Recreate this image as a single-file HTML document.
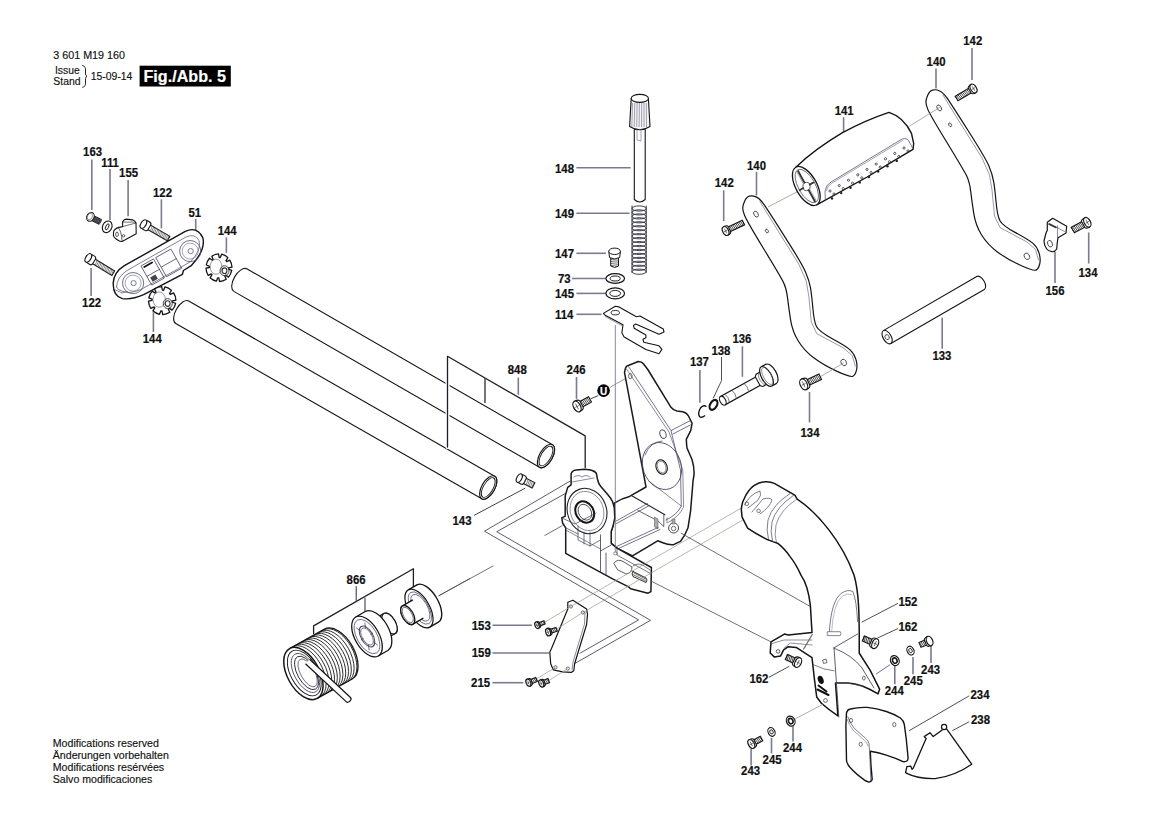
<!DOCTYPE html><html><head><meta charset="utf-8"><style>html,body{margin:0;padding:0;background:#fff}svg{display:block}</style></head><body><svg width="1169" height="826" viewBox="0 0 1169 826">
<style>text{font-family:"Liberation Sans",sans-serif;fill:#111;stroke:#111;stroke-width:0.15}.b{font-weight:bold}.lb{stroke:#111;stroke-width:0.2}</style>
<rect width="1169" height="826" fill="#fff"/>
<text x="53.3" y="58.8" font-size="10.8" textLength="71.7" lengthAdjust="spacingAndGlyphs">3 601 M19 160</text>
<text x="55" y="73.9" font-size="10.6" textLength="24.7" lengthAdjust="spacingAndGlyphs">Issue</text>
<text x="53.3" y="85.3" font-size="10.6" textLength="27.2" lengthAdjust="spacingAndGlyphs">Stand</text>
<path d="M82.6,65.5 Q86,66 85.5,71 L85.5,74 Q85.8,76 87,76.2 Q85.8,76.6 85.5,78.5 L85.5,82 Q86,87 82.6,87.2" stroke="#111" stroke-width="0.9" fill="none" stroke-linejoin="round" stroke-linecap="round"/>
<text x="90.8" y="79.7" font-size="10.6" textLength="41.6" lengthAdjust="spacingAndGlyphs">15-09-14</text>
<rect x="139.6" y="65.7" width="91.2" height="20.8" fill="#000"/>
<text x="143.5" y="81.6" font-size="16.8" class="b" style="fill:#fff;stroke:#fff;stroke-width:0.2" textLength="82.5" lengthAdjust="spacingAndGlyphs">Fig./Abb. 5</text>
<text x="52.8" y="747.1" font-size="10.6">Modifications reserved</text>
<text x="52.8" y="758.9" font-size="10.6">Änderungen vorbehalten</text>
<text x="52.8" y="770.7" font-size="10.6">Modifications resérvées</text>
<text x="52.8" y="782.5" font-size="10.6">Salvo modificaciones</text>
<text transform="translate(83.1,156.3) scale(0.955,1)" class="b lb" font-size="11.9">163</text>
<line x1="91.8" y1="159.4" x2="91.8" y2="210.0" stroke="#7a7a92" stroke-width="1.6"/>
<text transform="translate(101.2,166.9) scale(0.955,1)" class="b lb" font-size="11.9">111</text>
<line x1="110.0" y1="169.0" x2="110.0" y2="219.9" stroke="#7a7a92" stroke-width="1.6"/>
<text transform="translate(119.1,177.3) scale(0.955,1)" class="b lb" font-size="11.9">155</text>
<line x1="128.1" y1="180.0" x2="128.1" y2="216.3" stroke="#7a7a92" stroke-width="1.6"/>
<text transform="translate(153.0,197.1) scale(0.955,1)" class="b lb" font-size="11.9">122</text>
<line x1="161.4" y1="199.3" x2="161.4" y2="228.4" stroke="#7a7a92" stroke-width="1.6"/>
<text transform="translate(188.4,216.8) scale(0.955,1)" class="b lb" font-size="11.9">51</text>
<line x1="195.7" y1="218.8" x2="195.7" y2="231.5" stroke="#7a7a92" stroke-width="1.6"/>
<text transform="translate(217.7,235.0) scale(0.955,1)" class="b lb" font-size="11.9">144</text>
<line x1="226.4" y1="237.5" x2="226.4" y2="252.7" stroke="#7a7a92" stroke-width="1.6"/>
<text transform="translate(82.1,307.0) scale(0.955,1)" class="b lb" font-size="11.9">122</text>
<line x1="91.1" y1="268.0" x2="91.1" y2="296.0" stroke="#7a7a92" stroke-width="1.6"/>
<text transform="translate(142.8,343.3) scale(0.955,1)" class="b lb" font-size="11.9">144</text>
<line x1="153.4" y1="312.2" x2="153.4" y2="331.9" stroke="#7a7a92" stroke-width="1.6"/>
<g transform="translate(90.4,216.9) rotate(27)"><path d="M0,-2.6 L11,-2.6 Q12.2,0 11,2.6 L0,2.6 Z" fill="#2a2a3a" stroke="#141414" stroke-width="0.9"/>
<line x1="4.0" y1="-2.4" x2="4.6" y2="2.4" stroke="#888" stroke-width="0.5"/>
<line x1="5.6" y1="-2.4" x2="6.2" y2="2.4" stroke="#888" stroke-width="0.5"/>
<line x1="7.2" y1="-2.4" x2="7.8" y2="2.4" stroke="#888" stroke-width="0.5"/>
<line x1="8.8" y1="-2.4" x2="9.4" y2="2.4" stroke="#888" stroke-width="0.5"/>
<line x1="10.4" y1="-2.4" x2="11.0" y2="2.4" stroke="#888" stroke-width="0.5"/>
<ellipse cx="0" cy="0" rx="3.6" ry="4.6" fill="#fff" stroke="#141414" stroke-width="1.0"/><ellipse cx="-0.6" cy="0" rx="2.4" ry="3.4" fill="none" stroke="#555" stroke-width="0.6"/></g>
<g transform="translate(107.2,226.8) rotate(25)"><ellipse rx="4.6" ry="6" fill="#fff" stroke="#141414" stroke-width="1.1"/><ellipse rx="1.4" ry="3.2" fill="none" stroke="#141414" stroke-width="0.8800000000000001"/></g>
<path d="M122.6,221.9 Q123.5,219.6 126.2,219.1 L132.9,219.9 Q135.5,221 136,223 L136.2,233.7 L122.1,241.4 Q119.8,241.6 118.5,240.4 Q114,238 113.4,235.3 Q113.3,232 113.9,230.7 Q116,228 118,227.6 L122.6,226.6 Z" stroke="#141414" stroke-width="1.1" fill="#fff" stroke-linejoin="round" stroke-linecap="round"/>
<path d="M122.6,226.6 L136,223 M122.6,221.9 Q126,222.5 132,222 Q135,222 136,223" stroke="#333" stroke-width="0.7" fill="none" stroke-linejoin="round" stroke-linecap="round"/>
<path d="M118,227.6 Q121.5,230 122.1,241.4" stroke="#333" stroke-width="0.8" fill="none" stroke-linejoin="round" stroke-linecap="round"/>
<ellipse cx="117" cy="234.3" rx="1.4" ry="2.2" fill="none" stroke="#333" stroke-width="0.8"/><circle cx="123.6" cy="235.8" r="1.2" fill="none" stroke="#333" stroke-width="0.8"/>
<g transform="translate(146.0,225.5) rotate(30.1)"><path d="M0,-2.6 L26.1,-2.6 L26.1,2.6 L0,2.6" fill="#fff" stroke="#141414" stroke-width="1.1"/><line x1="5.8" y1="-2.6" x2="6.6" y2="2.6" stroke="#555" stroke-width="0.6"/><line x1="7.4" y1="-2.6" x2="8.2" y2="2.6" stroke="#555" stroke-width="0.6"/><line x1="9.0" y1="-2.6" x2="9.8" y2="2.6" stroke="#555" stroke-width="0.6"/><line x1="10.6" y1="-2.6" x2="11.4" y2="2.6" stroke="#555" stroke-width="0.6"/><line x1="12.2" y1="-2.6" x2="13.0" y2="2.6" stroke="#555" stroke-width="0.6"/><line x1="13.8" y1="-2.6" x2="14.6" y2="2.6" stroke="#555" stroke-width="0.6"/><line x1="15.4" y1="-2.6" x2="16.2" y2="2.6" stroke="#555" stroke-width="0.6"/><line x1="17.0" y1="-2.6" x2="17.8" y2="2.6" stroke="#555" stroke-width="0.6"/><line x1="18.6" y1="-2.6" x2="19.4" y2="2.6" stroke="#555" stroke-width="0.6"/><line x1="20.2" y1="-2.6" x2="21.0" y2="2.6" stroke="#555" stroke-width="0.6"/><line x1="21.8" y1="-2.6" x2="22.6" y2="2.6" stroke="#555" stroke-width="0.6"/><line x1="23.4" y1="-2.6" x2="24.2" y2="2.6" stroke="#555" stroke-width="0.6"/><line x1="25.0" y1="-2.6" x2="25.8" y2="2.6" stroke="#555" stroke-width="0.6"/><rect x="-2.9" y="-4.8" width="6.7" height="9.6" rx="2.4" fill="#fff" stroke="#141414" stroke-width="1.1"/><ellipse cx="-2.9" cy="0" rx="2.6" ry="4.8" fill="#fff" stroke="#141414" stroke-width="1.1"/></g>
<g transform="translate(90.8,259.5) rotate(31.5)"><path d="M0,-2.6 L26.3,-2.6 L26.3,2.6 L0,2.6" fill="#fff" stroke="#141414" stroke-width="1.1"/><line x1="5.8" y1="-2.6" x2="6.6" y2="2.6" stroke="#555" stroke-width="0.6"/><line x1="7.4" y1="-2.6" x2="8.2" y2="2.6" stroke="#555" stroke-width="0.6"/><line x1="9.0" y1="-2.6" x2="9.8" y2="2.6" stroke="#555" stroke-width="0.6"/><line x1="10.6" y1="-2.6" x2="11.4" y2="2.6" stroke="#555" stroke-width="0.6"/><line x1="12.2" y1="-2.6" x2="13.0" y2="2.6" stroke="#555" stroke-width="0.6"/><line x1="13.8" y1="-2.6" x2="14.6" y2="2.6" stroke="#555" stroke-width="0.6"/><line x1="15.4" y1="-2.6" x2="16.2" y2="2.6" stroke="#555" stroke-width="0.6"/><line x1="17.0" y1="-2.6" x2="17.8" y2="2.6" stroke="#555" stroke-width="0.6"/><line x1="18.6" y1="-2.6" x2="19.4" y2="2.6" stroke="#555" stroke-width="0.6"/><line x1="20.2" y1="-2.6" x2="21.0" y2="2.6" stroke="#555" stroke-width="0.6"/><line x1="21.8" y1="-2.6" x2="22.6" y2="2.6" stroke="#555" stroke-width="0.6"/><line x1="23.4" y1="-2.6" x2="24.2" y2="2.6" stroke="#555" stroke-width="0.6"/><line x1="25.0" y1="-2.6" x2="25.8" y2="2.6" stroke="#555" stroke-width="0.6"/><rect x="-2.9" y="-4.8" width="6.7" height="9.6" rx="2.4" fill="#fff" stroke="#141414" stroke-width="1.1"/><ellipse cx="-2.9" cy="0" rx="2.6" ry="4.8" fill="#fff" stroke="#141414" stroke-width="1.1"/></g>
<path d="M113.2,283.1 Q114,272 124.4,265.7 L185.3,231.3 Q197,226 202.8,237.6 Q206,250 191.2,265.7 L183.4,270.5 L182.4,274.4 L176.6,277.3 L143.7,294.7 Q132,300 122.4,298.6 Q113,296 113.2,283.1 Z" stroke="#141414" stroke-width="1.4" fill="#fff" stroke-linejoin="round" stroke-linecap="round"/>
<path d="M116.5,287 Q117,277 127,270.5 L186,237 Q195,233 199,240.5 Q202,250 190,262 L176,270 L141,289.5 Q130,294 123,291.5 Q117,290 116.5,287" stroke="#4a4a6a" stroke-width="0.7" fill="none" stroke-linejoin="round" stroke-linecap="round"/>
<path d="M113.5,289 L122,293 L127,291.5" stroke="#4a4a6a" stroke-width="0.7" fill="none" stroke-linejoin="round" stroke-linecap="round"/>
<circle cx="133.1" cy="283.1" r="10.6" fill="none" stroke="#4a4a6a" stroke-width="0.8"/><circle cx="133.1" cy="283.1" r="8" fill="none" stroke="#6a6a88" stroke-width="0.6"/><circle cx="133.6" cy="283.1" r="2.6" fill="none" stroke="#4a4a6a" stroke-width="0.7"/>
<circle cx="190.2" cy="251.1" r="10.6" fill="none" stroke="#4a4a6a" stroke-width="0.8"/><circle cx="190.2" cy="251.1" r="8" fill="none" stroke="#6a6a88" stroke-width="0.6"/><circle cx="190.7" cy="251.1" r="2.6" fill="none" stroke="#4a4a6a" stroke-width="0.7"/>
<g transform="translate(161.5,267) rotate(-29.5)">
<path d="M-17,-11 L-3,-11 L-3,11 L-17,11 Z M0,-11 L17,-11 L17,11 L0,11 Z M0,0 L17,0 M-17,1 L-3,1" stroke="#3a3a5a" stroke-width="0.7" fill="none" stroke-linejoin="round" stroke-linecap="round"/>
<path d="M-15,-8.5 L-6,-8.5" stroke="#141414" stroke-width="1.8" fill="none" stroke-linejoin="round" stroke-linecap="round"/>
<rect x="-15" y="3.5" width="6" height="5" fill="#444"/>
</g>
<path d="M231.7,270.4 A13.0,13.8 0 0 1 228.5,277.1 L225.6,275.1 Q225.2,275.5 224.8,275.9 L226.2,279.2 A13.0,13.8 0 0 1 219.5,281.5 L218.8,277.9 Q218.2,277.9 217.7,277.8 L216.4,281.2 A13.0,13.8 0 0 1 210.1,277.8 L212.0,274.7 Q211.7,274.3 211.3,273.8 L208.2,275.3 A13.0,13.8 0 0 1 206.0,268.2 L209.4,267.5 Q209.4,266.9 209.5,266.3 L206.3,265.0 A13.0,13.8 0 0 1 209.5,258.3 L212.4,260.3 Q212.8,259.9 213.2,259.5 L211.8,256.2 A13.0,13.8 0 0 1 218.5,253.9 L219.2,257.5 Q219.8,257.5 220.3,257.6 L221.6,254.2 A13.0,13.8 0 0 1 227.9,257.6 L226.0,260.7 Q226.3,261.1 226.7,261.6 L229.8,260.1 A13.0,13.8 0 0 1 232.0,267.2 L228.6,267.9 Q228.6,268.5 228.5,269.1 L231.7,270.4 Z" stroke="#141414" stroke-width="1.3" fill="#fff" stroke-linejoin="round" stroke-linecap="round"/>
<ellipse cx="216" cy="266.7" rx="5.9" ry="7.6" fill="none" stroke="#6a6a88" stroke-width="0.7"/>
<ellipse cx="224.5" cy="270.7" rx="4.5" ry="5" fill="none" stroke="#333" stroke-width="0.9"/>
<ellipse cx="224.5" cy="270.7" rx="2.4" ry="2.8" fill="none" stroke="#333" stroke-width="1.1"/>
<path d="M175.6,303.4 A13.7,14.0 0 0 1 172.2,310.1 L169.2,308.1 Q168.8,308.5 168.3,308.9 L169.8,312.3 A13.7,14.0 0 0 1 162.7,314.6 L162.0,311.0 Q161.4,310.9 160.8,310.9 L159.5,314.3 A13.7,14.0 0 0 1 152.9,310.8 L154.9,307.7 Q154.5,307.3 154.1,306.8 L150.8,308.3 A13.7,14.0 0 0 1 148.5,301.1 L152.1,300.3 Q152.1,299.7 152.2,299.2 L148.8,297.8 A13.7,14.0 0 0 1 152.2,291.1 L155.2,293.1 Q155.6,292.7 156.1,292.3 L154.6,288.9 A13.7,14.0 0 0 1 161.7,286.6 L162.4,290.2 Q163.0,290.3 163.6,290.3 L164.9,286.9 A13.7,14.0 0 0 1 171.5,290.4 L169.5,293.5 Q169.9,293.9 170.3,294.4 L173.6,292.9 A13.7,14.0 0 0 1 175.9,300.1 L172.3,300.9 Q172.3,301.5 172.2,302.0 L175.6,303.4 Z" stroke="#141414" stroke-width="1.3" fill="#fff" stroke-linejoin="round" stroke-linecap="round"/>
<ellipse cx="159.2" cy="299.6" rx="6.2" ry="7.7" fill="none" stroke="#6a6a88" stroke-width="0.7"/>
<ellipse cx="167.7" cy="303.6" rx="4.5" ry="5" fill="none" stroke="#333" stroke-width="0.9"/>
<ellipse cx="167.7" cy="303.6" rx="2.4" ry="2.8" fill="none" stroke="#333" stroke-width="1.1"/>
<g transform="translate(240.3,280.1) rotate(29.92)">
<path d="M0,-13 L352.7,-13 A6.5,13 0 0 1 352.7,13 L0,13 A6.5,13 0 0 1 0,-13 Z" fill="#fff" stroke="#141414" stroke-width="1.1"/>
<ellipse cx="352.7" cy="0" rx="6.5" ry="13" fill="#fff" stroke="#141414" stroke-width="1.2"/>
<ellipse cx="352.7" cy="0" rx="4.9" ry="11.0" fill="none" stroke="#141414" stroke-width="0.9"/>
</g>
<g transform="translate(182.2,312.2) rotate(29.81)">
<path d="M0,-13 L352.7,-13 A6.5,13 0 0 1 352.7,13 L0,13 A6.5,13 0 0 1 0,-13 Z" fill="#fff" stroke="#141414" stroke-width="1.1"/>
<ellipse cx="352.7" cy="0" rx="6.5" ry="13" fill="#fff" stroke="#141414" stroke-width="1.2"/>
<ellipse cx="352.7" cy="0" rx="4.9" ry="11.0" fill="none" stroke="#141414" stroke-width="0.9"/>
</g>
<text transform="translate(507.8,374.2) scale(0.955,1)" class="b lb" font-size="11.9">848</text>
<line x1="518.3" y1="377.5" x2="518.3" y2="396.5" stroke="#7a7a92" stroke-width="1.6"/>
<path d="M447.5,447 L447.5,356.3 L585.2,435.9 L585.2,467.5" stroke="#fff" stroke-width="4" fill="none" stroke-linejoin="round" stroke-linecap="round"/>
<line x1="485.0" y1="378.0" x2="485.0" y2="403.0" stroke="#fff" stroke-width="4"/>
<path d="M447.5,447 L447.5,356.3 L585.2,435.9 L585.2,467.5" stroke="#1e1e28" stroke-width="1.3" fill="none" stroke-linejoin="round" stroke-linecap="round"/>
<line x1="485.0" y1="378.0" x2="485.0" y2="403.0" stroke="#50505e" stroke-width="1.6"/>
<text transform="translate(555.0,172.6) scale(0.955,1)" class="b lb" font-size="11.9">148</text>
<line x1="576.4" y1="167.7" x2="630.7" y2="167.7" stroke="#7a7a92" stroke-width="1.6"/>
<text transform="translate(555.0,218.0) scale(0.955,1)" class="b lb" font-size="11.9">149</text>
<line x1="576.4" y1="213.3" x2="629.5" y2="213.3" stroke="#7a7a92" stroke-width="1.6"/>
<text transform="translate(555.0,258.1) scale(0.955,1)" class="b lb" font-size="11.9">147</text>
<line x1="576.4" y1="253.3" x2="605.9" y2="253.3" stroke="#7a7a92" stroke-width="1.6"/>
<text transform="translate(557.9,282.9) scale(0.955,1)" class="b lb" font-size="11.9">73</text>
<line x1="572.0" y1="278.5" x2="605.9" y2="278.5" stroke="#7a7a92" stroke-width="1.6"/>
<text transform="translate(555.0,297.8) scale(0.955,1)" class="b lb" font-size="11.9">145</text>
<line x1="576.4" y1="293.4" x2="605.9" y2="293.4" stroke="#7a7a92" stroke-width="1.6"/>
<text transform="translate(555.0,318.5) scale(0.955,1)" class="b lb" font-size="11.9">114</text>
<line x1="576.4" y1="314.3" x2="601.6" y2="314.3" stroke="#7a7a92" stroke-width="1.6"/>
<path d="M634.3,129.4 L634.3,199.5 Q639.7,204.5 645.2,199.5 L645.2,129.4" stroke="#141414" stroke-width="1.1" fill="#fff" stroke-linejoin="round" stroke-linecap="round"/>
<path d="M631.2,98.4 L629.6,126.5 Q639.8,133 650,126.5 L648.4,98.4" stroke="#141414" stroke-width="1.1" fill="#f4f4f6" stroke-linejoin="round" stroke-linecap="round"/>
<ellipse cx="639.8" cy="98.4" rx="8.6" ry="4" fill="#fff" stroke="#141414" stroke-width="1.1"/>
<line x1="632.5" y1="103.0" x2="631.8" y2="127.0" stroke="#6a6a80" stroke-width="0.6"/>
<line x1="634.8" y1="103.0" x2="634.2" y2="127.0" stroke="#6a6a80" stroke-width="0.6"/>
<line x1="637.1" y1="103.0" x2="636.7" y2="127.0" stroke="#6a6a80" stroke-width="0.6"/>
<line x1="639.4" y1="103.0" x2="639.1" y2="127.0" stroke="#6a6a80" stroke-width="0.6"/>
<line x1="641.7" y1="103.0" x2="641.6" y2="127.0" stroke="#6a6a80" stroke-width="0.6"/>
<line x1="644.0" y1="103.0" x2="644.0" y2="127.0" stroke="#6a6a80" stroke-width="0.6"/>
<line x1="646.3" y1="103.0" x2="646.5" y2="127.0" stroke="#6a6a80" stroke-width="0.6"/>
<path d="M637,129.5 L637,140 L641,141 L641,129.5" stroke="#6a6a80" stroke-width="0.6" fill="none" stroke-linejoin="round" stroke-linecap="round"/>
<path d="M632,206 L632,272.5 M646.2,206 L646.2,272.5" stroke="#141414" stroke-width="0.9" fill="none" stroke-linejoin="round" stroke-linecap="round"/>
<ellipse cx="639.1" cy="208.5" rx="7.0" ry="2.6" fill="none" stroke="#2a2a40" stroke-width="0.9"/>
<ellipse cx="639.1" cy="212.4" rx="7.0" ry="2.6" fill="none" stroke="#2a2a40" stroke-width="0.9"/>
<ellipse cx="639.1" cy="216.4" rx="7.0" ry="2.6" fill="none" stroke="#2a2a40" stroke-width="0.9"/>
<ellipse cx="639.1" cy="220.3" rx="7.0" ry="2.6" fill="none" stroke="#2a2a40" stroke-width="0.9"/>
<ellipse cx="639.1" cy="224.3" rx="7.0" ry="2.6" fill="none" stroke="#2a2a40" stroke-width="0.9"/>
<ellipse cx="639.1" cy="228.2" rx="7.0" ry="2.6" fill="none" stroke="#2a2a40" stroke-width="0.9"/>
<ellipse cx="639.1" cy="232.2" rx="7.0" ry="2.6" fill="none" stroke="#2a2a40" stroke-width="0.9"/>
<ellipse cx="639.1" cy="236.2" rx="7.0" ry="2.6" fill="none" stroke="#2a2a40" stroke-width="0.9"/>
<ellipse cx="639.1" cy="240.1" rx="7.0" ry="2.6" fill="none" stroke="#2a2a40" stroke-width="0.9"/>
<ellipse cx="639.1" cy="244.1" rx="7.0" ry="2.6" fill="none" stroke="#2a2a40" stroke-width="0.9"/>
<ellipse cx="639.1" cy="248.0" rx="7.0" ry="2.6" fill="none" stroke="#2a2a40" stroke-width="0.9"/>
<ellipse cx="639.1" cy="251.9" rx="7.0" ry="2.6" fill="none" stroke="#2a2a40" stroke-width="0.9"/>
<ellipse cx="639.1" cy="255.9" rx="7.0" ry="2.6" fill="none" stroke="#2a2a40" stroke-width="0.9"/>
<ellipse cx="639.1" cy="259.9" rx="7.0" ry="2.6" fill="none" stroke="#2a2a40" stroke-width="0.9"/>
<ellipse cx="639.1" cy="263.8" rx="7.0" ry="2.6" fill="none" stroke="#2a2a40" stroke-width="0.9"/>
<ellipse cx="639.1" cy="267.8" rx="7.0" ry="2.6" fill="none" stroke="#2a2a40" stroke-width="0.9"/>
<ellipse cx="639.1" cy="271.7" rx="7.0" ry="2.6" fill="none" stroke="#2a2a40" stroke-width="0.9"/>
<path d="M610.7,258 L610.7,266 Q614.6,269 618.5,266 L618.5,258" stroke="#141414" stroke-width="1.0" fill="#fff" stroke-linejoin="round" stroke-linecap="round"/>
<line x1="610.9" y1="259.5" x2="618.3" y2="260.3" stroke="#141414" stroke-width="0.6"/>
<line x1="610.9" y1="261.5" x2="618.3" y2="262.3" stroke="#141414" stroke-width="0.6"/>
<line x1="610.9" y1="263.5" x2="618.3" y2="264.3" stroke="#141414" stroke-width="0.6"/>
<line x1="610.9" y1="265.5" x2="618.3" y2="266.3" stroke="#141414" stroke-width="0.6"/>
<path d="M608.8,251.3 L609.5,257.5 Q614.6,260.5 619.7,257.5 L620.4,251.3" stroke="#141414" stroke-width="1.0" fill="#fff" stroke-linejoin="round" stroke-linecap="round"/>
<ellipse cx="614.6" cy="251.3" rx="5.8" ry="3.2" fill="#fff" stroke="#141414" stroke-width="1.0"/>
<g transform="translate(615.2,278.5) rotate(0)"><ellipse rx="9.3" ry="4.8" fill="#fff" stroke="#141414" stroke-width="1.2"/><ellipse rx="5" ry="2.5" fill="none" stroke="#141414" stroke-width="0.96"/></g>
<g transform="translate(615.2,293.4) rotate(0)"><ellipse rx="9.3" ry="5.5" fill="#fff" stroke="#141414" stroke-width="1.2"/><ellipse rx="5.4" ry="3" fill="none" stroke="#141414" stroke-width="0.96"/></g>
<path d="M603.4,313.4 L615.3,306.2 L619.0,306.9 L636.4,316.7 L640.0,316.0 L663.3,329.1 L664.0,332.0 L659.0,334.2 L635.7,324.0 L633.5,325.4 L634.2,328.3 L645.9,334.9 L645.9,337.8 L643.0,339.2 L643.7,342.2 L659.0,345.8 L661.9,349.4 L659.0,353.8 L645.9,349.4 L624.1,337.1 L621.9,332.7 L623.0,324.7 L605.2,315.3 Z" stroke="#141414" stroke-width="1.1" fill="#fff" stroke-linejoin="round"/>
<line x1="605.0" y1="316.5" x2="622.5" y2="326.0" stroke="#555566" stroke-width="0.6"/>
<ellipse cx="615.3" cy="312.7" rx="4.2" ry="2.2" fill="none" stroke="#141414" stroke-width="0.9"/>
<text transform="translate(566.6,374.2) scale(0.955,1)" class="b lb" font-size="11.9">246</text>
<line x1="576.5" y1="377.0" x2="576.5" y2="398.8" stroke="#7a7a92" stroke-width="1.6"/>
<g transform="translate(577.0,406.5) rotate(-28.3)"><path d="M0,-3.0 L14.8,-3.0 L14.8,3.0 L0,3.0" fill="#fff" stroke="#141414" stroke-width="1.1"/><line x1="4.4" y1="-3.0" x2="5.2" y2="3.0" stroke="#141414" stroke-width="0.7"/><line x1="6.1" y1="-3.0" x2="6.9" y2="3.0" stroke="#141414" stroke-width="0.7"/><line x1="7.8" y1="-3.0" x2="8.6" y2="3.0" stroke="#141414" stroke-width="0.7"/><line x1="9.5" y1="-3.0" x2="10.3" y2="3.0" stroke="#141414" stroke-width="0.7"/><line x1="11.2" y1="-3.0" x2="12.0" y2="3.0" stroke="#141414" stroke-width="0.7"/><line x1="12.9" y1="-3.0" x2="13.7" y2="3.0" stroke="#141414" stroke-width="0.7"/><path d="M0,-5.8 Q5.2,-5.8 5.2,-3.0 L5.2,3.0 Q5.2,5.8 0,5.8" fill="#fff" stroke="#141414" stroke-width="1.1"/><ellipse cx="0" cy="0" rx="3.5" ry="5.8" fill="#fff" stroke="#141414" stroke-width="1.2"/><path d="M0,-3.2 L0,3.2 M-2.0,0 L2.0,0" stroke="#444" stroke-width="0.7"/></g>
<line x1="590.6" y1="398.8" x2="598.3" y2="395.6" stroke="#2a2a3a" stroke-width="0.9"/>
<circle cx="603.6" cy="390.6" r="6.3" fill="#000"/>
<text x="603.6" y="394.6" font-size="10" class="b" text-anchor="middle" style="fill:#fff;stroke:#fff;stroke-width:0.2">U</text>
<line x1="609.8" y1="387.5" x2="630.8" y2="375.4" stroke="#6a6a88" stroke-width="0.7"/>
<text transform="translate(452.5,524.5) scale(0.955,1)" class="b lb" font-size="11.9">143</text>
<line x1="474.0" y1="515.4" x2="525.3" y2="488.1" stroke="#2a2a3a" stroke-width="0.9"/>
<g transform="translate(521.8,479.4) rotate(26.8)"><path d="M0,-3.0 L13.1,-3.0 L13.1,3.0 L0,3.0" fill="#fff" stroke="#141414" stroke-width="1.1"/><line x1="5.6" y1="-3.0" x2="6.4" y2="3.0" stroke="#555" stroke-width="0.6"/><line x1="7.2" y1="-3.0" x2="8.0" y2="3.0" stroke="#555" stroke-width="0.6"/><line x1="8.8" y1="-3.0" x2="9.6" y2="3.0" stroke="#555" stroke-width="0.6"/><line x1="10.4" y1="-3.0" x2="11.2" y2="3.0" stroke="#555" stroke-width="0.6"/><line x1="12.0" y1="-3.0" x2="12.8" y2="3.0" stroke="#555" stroke-width="0.6"/><rect x="-2.8" y="-4.6" width="6.4" height="9.2" rx="2.3" fill="#fff" stroke="#141414" stroke-width="1.1"/><ellipse cx="-2.8" cy="0" rx="2.5" ry="4.6" fill="#fff" stroke="#141414" stroke-width="1.1"/></g>
<path d="M570.1,481.1 L484.5,531.2 L638.6,619.9 L580,653.2" stroke="#4a4a5a" stroke-width="0.9" fill="none" stroke-linejoin="round" stroke-linecap="round"/>
<path d="M565.7,493.3 L496.7,531.7 L650.5,620.3 L575.3,663.2" stroke="#4a4a5a" stroke-width="0.9" fill="none" stroke-linejoin="round" stroke-linecap="round"/>
<line x1="438.6" y1="595.9" x2="493.3" y2="565.8" stroke="#4a4a5a" stroke-width="0.8"/>
<line x1="544.5" y1="535.6" x2="562.3" y2="525.6" stroke="#4a4a5a" stroke-width="0.8"/>
<path d="M625.3,368.8 Q626,365.5 628.9,365.2 L638.3,361.5 Q642,361.8 643.4,363.7 L647.8,369.5 L671,407.3 Q673.5,410.5 676.9,411 L682.7,411.7 Q687,413 688.5,416 L692.1,423.3 L690.7,430.6 L686.3,439.3 Q686.5,444 687,448 L692.1,459.7 Q694.5,468 694,475 L693.1,480.3 L690.6,510.8 L688,527.8 Q685,536 680.4,541.4 L673.6,544.7 Q668,545 663.5,543 L657.7,540.8 L632.5,555.9 L617,548.1 L611.2,543.3 L611.2,531.6 L613.1,525.8 L614.3,503.2 Q622,498 629.6,496.4 L646,487 L624.5,372.4 Z" stroke="#1a1a1a" stroke-width="1.5" fill="#fff" stroke-linejoin="round" stroke-linecap="round"/>
<path d="M628.5,366.5 L671,430.6 L680.5,470 L681.3,506 Q677,515 666,520" stroke="#3a3a58" stroke-width="0.7" fill="none" stroke-linejoin="round" stroke-linecap="round"/>
<path d="M626.5,369 L669,432 L682.8,470 L683.6,507 Q679,517 668,522.5" stroke="#3a3a58" stroke-width="0.6" fill="none" stroke-linejoin="round" stroke-linecap="round"/>
<line x1="671.0" y1="430.6" x2="690.7" y2="420.4" stroke="#3a3a58" stroke-width="0.7"/>
<line x1="672.5" y1="434.2" x2="690.7" y2="424.8" stroke="#3a3a58" stroke-width="0.7"/>
<ellipse cx="630.3" cy="376.1" rx="1.8" ry="2.7" fill="none" stroke="#333" stroke-width="0.7"/>
<ellipse cx="663" cy="434.2" rx="3" ry="4.5" transform="rotate(-15 663 434.2)" fill="none" stroke="#333" stroke-width="0.8"/>
<ellipse cx="662" cy="466" rx="19" ry="24" transform="rotate(-20 662 466)" fill="none" stroke="#444460" stroke-width="0.8"/>
<path d="M645,455 Q650,442 662,441" stroke="#3a3a58" stroke-width="0.7" fill="none" stroke-linejoin="round" stroke-linecap="round"/>
<ellipse cx="661.6" cy="467" rx="5.5" ry="7.5" transform="rotate(-20 661.6 467)" fill="#fff" stroke="#141414" stroke-width="1.1"/>
<ellipse cx="661.6" cy="467" rx="4.2" ry="6.2" transform="rotate(-20 661.6 467)" fill="none" stroke="#444460" stroke-width="0.6"/>
<path d="M632.2,496.1 L664.9,514.7" stroke="#222" stroke-width="1.1" fill="none" stroke-linejoin="round" stroke-linecap="round"/>
<path d="M648.6,480.9 L681.3,506" stroke="#3a3a58" stroke-width="0.6" fill="none" stroke-linejoin="round" stroke-linecap="round"/>
<path d="M637.7,510.3 L658,521 L663.8,526.6 L663.8,515" stroke="#3a3a58" stroke-width="0.8" fill="none" stroke-linejoin="round" stroke-linecap="round"/>
<path d="M654.5,517 L658,519 L658,529 L654.5,527 Z" fill="#aaa" stroke="#555" stroke-width="0.5"/>
<path d="M615.9,521.2 L647.5,503.5 M615.9,523.8 L648.5,506" stroke="#3a3a58" stroke-width="0.7" fill="none" stroke-linejoin="round" stroke-linecap="round"/>
<path d="M617,546.3 L658,527.5 M619.5,548 L660,529.5" stroke="#3a3a58" stroke-width="0.7" fill="none" stroke-linejoin="round" stroke-linecap="round"/>
<path d="M667,518 L667,523" stroke="#3a3a58" stroke-width="0.6" fill="none" stroke-linejoin="round" stroke-linecap="round"/>
<circle cx="673.6" cy="528" r="5" fill="#fff" stroke="#333" stroke-width="0.9"/><circle cx="673.6" cy="528.5" r="2.2" fill="none" stroke="#333" stroke-width="0.7"/>
<path d="M672,519 L675,519 L675,524 L672,524 Z" fill="#aaa" stroke="#555" stroke-width="0.5"/>
<path d="M571.1,473.9 Q572,470.5 576.2,470 L584.7,469.2 Q590,469.5 592.3,470.5 Q596,472 596.5,473.9 L597.4,479 Q598.5,484 600.8,486.6 L607.5,494.2 Q611,498 612.6,501.8 L614.3,507.8 L614.8,518 L613.1,525.8 L611.2,531.6 L611.2,543.3 L617,548.1 L651.4,567.5 L650.9,591.7 L648,593.2 L630.6,588.8 L628.6,586.9 L613.1,579.1 L565.7,553.4 L565.7,527.8 L562.6,523 L561.8,517.9 L565.2,516.2 L565.2,495.9 L567.7,487.4 L571.1,484.9 Z" stroke="#1a1a1a" stroke-width="1.5" fill="#fff" stroke-linejoin="round" stroke-linecap="round"/>
<ellipse cx="587" cy="511" rx="19.5" ry="23" transform="rotate(-20 587 511)" fill="none" stroke="#222" stroke-width="1.1"/>
<ellipse cx="587" cy="511" rx="16.5" ry="20" transform="rotate(-20 587 511)" fill="none" stroke="#555570" stroke-width="0.6"/>
<ellipse cx="584.7" cy="512" rx="8.8" ry="11.2" transform="rotate(-30 584.7 512)" fill="#fff" stroke="#141414" stroke-width="2.0"/>
<ellipse cx="584.9" cy="512.2" rx="6.2" ry="8.4" transform="rotate(-30 584.9 512.2)" fill="none" stroke="#333" stroke-width="0.8"/>
<path d="M572,482 L594,478 M574,477 Q578,474 582,477 Q586,474 590,477" stroke="#3a3a58" stroke-width="0.6" fill="none" stroke-linejoin="round" stroke-linecap="round"/>
<path d="M561.8,517.9 L575,524 L596,513 M565.7,527.8 L578,534 M578,526 L578,540 L590,546 L600.5,540 M584,532 L584,544 M590,532 L590,546" stroke="#3a3a58" stroke-width="0.7" fill="none" stroke-linejoin="round" stroke-linecap="round"/>
<path d="M565.7,530 L600.5,549" stroke="#3a3a58" stroke-width="0.6" fill="none" stroke-linejoin="round" stroke-linecap="round"/>
<path d="M600.5,535 L600.5,572 M606,553 L606,575 M600.5,551 L611.2,545" stroke="#3a3a58" stroke-width="0.8" fill="none" stroke-linejoin="round" stroke-linecap="round"/>
<path d="M614,563 Q618,558 624,562 L632,567 Q632,573 626,574 L618,570 Z" stroke="#333" stroke-width="0.8" fill="none" stroke-linejoin="round" stroke-linecap="round"/>
<path d="M633,571.5 L646,578 Q648,580 646,582.5 L633,576.5 Q631,574 633,571.5 Z" stroke="#141414" stroke-width="0.9" fill="#fff" stroke-linejoin="round" stroke-linecap="round"/>
<path d="M634,573 L645.5,579 M633.5,574.8 L645.5,580.8" stroke="#333" stroke-width="0.7" fill="none" stroke-linejoin="round" stroke-linecap="round"/>
<path d="M633,566 Q638,562 644,566 L650,570" stroke="#3a3a58" stroke-width="0.7" fill="none" stroke-linejoin="round" stroke-linecap="round"/>
<path d="M617,548.1 L617,555 L651.4,574" stroke="#3a3a58" stroke-width="0.7" fill="none" stroke-linejoin="round" stroke-linecap="round"/>
<line x1="615.3" y1="325.0" x2="615.3" y2="552.0" stroke="#6a6a88" stroke-width="0.8"/>
<ellipse cx="615.3" cy="553.5" rx="2" ry="1.4" fill="none" stroke="#555" stroke-width="0.6"/>
<text transform="translate(346.6,583.6) scale(0.955,1)" class="b lb" font-size="11.9">866</text>
<line x1="356.2" y1="586.2" x2="356.2" y2="600.7" stroke="#2a2a3a" stroke-width="1.0"/>
<path d="M313.6,633.6 L313.6,625.9 L413.4,568.7 L413.4,587.1" stroke="#1e1e28" stroke-width="1.3" fill="none" stroke-linejoin="round" stroke-linecap="round"/>
<line x1="365.0" y1="597.8" x2="365.0" y2="612.3" stroke="#2a2a3a" stroke-width="1.0"/>
<line x1="438.6" y1="595.9" x2="470.0" y2="578.4" stroke="#4a4a5a" stroke-width="0.8"/>
<g transform="translate(419,608.5) rotate(-30)">
<path d="M0,-21.5 L10,-21.5 A10.5,21.5 0 0 1 10,21.5 L0,21.5" fill="#fff" stroke="#141414" stroke-width="1.4"/>
<ellipse cx="0" cy="0" rx="10.5" ry="21.5" fill="#fff" stroke="#141414" stroke-width="1.2"/>
<ellipse cx="1" cy="0" rx="8.5" ry="18" fill="none" stroke="#444460" stroke-width="0.7"/>
<ellipse cx="1.5" cy="0" rx="7" ry="15" fill="none" stroke="#444460" stroke-width="0.7"/>
<path d="M-1,-10.5 L-13,-10.5 A5.5,10.5 0 0 0 -13,10.5 L-1,10.5" fill="#fff" stroke="#141414" stroke-width="1.3"/>
<ellipse cx="-13" cy="0" rx="5.5" ry="10.5" fill="#fff" stroke="#141414" stroke-width="1.3"/>
<ellipse cx="-13" cy="0" rx="4.2" ry="8.5" fill="none" stroke="#444460" stroke-width="0.7"/>
</g>
<g transform="translate(367,636.5) rotate(-30)">
<path d="M10,-11.5 L26,-11.5 A6,11.5 0 0 1 26,11.5 L10,11.5" fill="#fff" stroke="#141414" stroke-width="1.2"/>
<ellipse cx="26" cy="0" rx="6" ry="11.5" fill="#fff" stroke="#141414" stroke-width="1.2"/>
<path d="M0,-22.5 L11,-22.5 A12,22.5 0 0 1 11,22.5 L0,22.5" fill="#fff" stroke="#141414" stroke-width="1.3"/>
<ellipse cx="0" cy="0" rx="12" ry="22.5" fill="#fff" stroke="#141414" stroke-width="1.3"/>
<ellipse cx="0" cy="0" rx="10" ry="19" fill="none" stroke="#444460" stroke-width="0.7"/>
<ellipse cx="0" cy="0" rx="6" ry="11.5" fill="none" stroke="#444460" stroke-width="1.0"/>
<ellipse cx="0" cy="0" rx="4.8" ry="9.5" fill="none" stroke="#444460" stroke-width="0.7"/>
<path d="M-5,-13 L-3,-8 M5,-13 L3,-8 M-5,13 L-3,8 M5,13 L3,8 M-7,0 L-4,0 M7,0 L4,0" stroke="#444460" stroke-width="0.7"/>
</g>
<g transform="translate(303.4,673.5) rotate(-29)">
<path d="M0,-28.5 L40,-28.5 A16,28.5 0 0 1 40,28.5 L0,28.5" fill="#fff" stroke="#141414" stroke-width="1.3"/>
<path d="M3.5,-28.5 A16,28.5 0 0 1 3.5,28.5" fill="none" stroke="#141414" stroke-width="0.8"/>
<path d="M6.7,-28.5 A16,28.5 0 0 1 6.7,28.5" fill="none" stroke="#141414" stroke-width="0.8"/>
<path d="M9.9,-28.5 A16,28.5 0 0 1 9.9,28.5" fill="none" stroke="#141414" stroke-width="0.8"/>
<path d="M13.1,-28.5 A16,28.5 0 0 1 13.1,28.5" fill="none" stroke="#141414" stroke-width="0.8"/>
<path d="M16.3,-28.5 A16,28.5 0 0 1 16.3,28.5" fill="none" stroke="#141414" stroke-width="0.8"/>
<path d="M19.5,-28.5 A16,28.5 0 0 1 19.5,28.5" fill="none" stroke="#141414" stroke-width="0.8"/>
<path d="M22.7,-28.5 A16,28.5 0 0 1 22.7,28.5" fill="none" stroke="#141414" stroke-width="0.8"/>
<path d="M25.9,-28.5 A16,28.5 0 0 1 25.9,28.5" fill="none" stroke="#141414" stroke-width="0.8"/>
<path d="M29.1,-28.5 A16,28.5 0 0 1 29.1,28.5" fill="none" stroke="#141414" stroke-width="0.8"/>
<path d="M32.3,-28.5 A16,28.5 0 0 1 32.3,28.5" fill="none" stroke="#141414" stroke-width="0.8"/>
<path d="M35.5,-28.5 A16,28.5 0 0 1 35.5,28.5" fill="none" stroke="#141414" stroke-width="0.8"/>
<path d="M38.7,-28.5 A16,28.5 0 0 1 38.7,28.5" fill="none" stroke="#141414" stroke-width="0.8"/>
<ellipse cx="0" cy="0" rx="16" ry="28.5" fill="#fff" stroke="#141414" stroke-width="1.5"/>
<ellipse cx="1" cy="0" rx="13.5" ry="25" fill="none" stroke="#141414" stroke-width="0.9"/>
<ellipse cx="2" cy="0.5" rx="11" ry="21.5" fill="none" stroke="#444460" stroke-width="0.8"/>
<ellipse cx="3" cy="1" rx="9" ry="18.5" fill="none" stroke="#141414" stroke-width="0.8"/>
<ellipse cx="4" cy="1.5" rx="7" ry="15.5" fill="none" stroke="#444460" stroke-width="0.7"/>
</g>
<g transform="translate(307.5,661.5) rotate(43)"><path d="M0,-3 L56,-3 A2,3 0 0 1 56,3 L0,3" fill="#fff" stroke="#141414" stroke-width="1.2"/></g>
<text transform="translate(471.8,629.6) scale(0.955,1)" class="b lb" font-size="11.9">153</text>
<line x1="492.5" y1="625.3" x2="531.9" y2="625.3" stroke="#7a7a92" stroke-width="1.6"/>
<text transform="translate(471.8,657.0) scale(0.955,1)" class="b lb" font-size="11.9">159</text>
<line x1="492.5" y1="653.0" x2="549.0" y2="653.0" stroke="#7a7a92" stroke-width="1.6"/>
<text transform="translate(471.1,687.3) scale(0.955,1)" class="b lb" font-size="11.9">215</text>
<line x1="492.5" y1="682.7" x2="523.3" y2="682.7" stroke="#7a7a92" stroke-width="1.6"/>
<path d="M567.8,602.2 L572.9,600.2 L586.6,609.1 L587.5,614.2 L586.6,624.5 L574.6,663.8 L573.8,670.7 L571.2,672.4 L562.7,671.9 L553.2,669.8 L550.7,663.8 L549.8,651.9 L551.5,648.4 L567.8,609.1 Z" stroke="#141414" stroke-width="1.2" fill="#fff" stroke-linejoin="round"/>
<path d="M585,612 L584.5,624 L573,662 L572,670" stroke="#3a3a58" stroke-width="0.6" fill="none" stroke-linejoin="round" stroke-linecap="round"/>
<circle cx="570.9" cy="606.5" r="1.6" fill="none" stroke="#333" stroke-width="0.7"/>
<circle cx="582.8" cy="612.5" r="1.6" fill="none" stroke="#333" stroke-width="0.7"/>
<circle cx="555.5" cy="667.3" r="1.6" fill="none" stroke="#333" stroke-width="0.7"/>
<circle cx="567.8" cy="668.6" r="1.6" fill="none" stroke="#333" stroke-width="0.7"/>
<line x1="570.9" y1="606.5" x2="747.9" y2="504.2" stroke="#9a9a8a" stroke-width="0.7"/>
<line x1="582.8" y1="612.5" x2="759.4" y2="510.4" stroke="#9a9a8a" stroke-width="0.7"/>
<line x1="543.8" y1="622.8" x2="570.9" y2="606.5" stroke="#9a9a8a" stroke-width="0.7"/>
<line x1="555.8" y1="629.6" x2="582.8" y2="612.5" stroke="#9a9a8a" stroke-width="0.7"/>
<line x1="536.1" y1="679.2" x2="555.5" y2="667.3" stroke="#9a9a8a" stroke-width="0.7"/>
<line x1="548.1" y1="681.0" x2="567.8" y2="668.6" stroke="#9a9a8a" stroke-width="0.7"/>
<g transform="translate(537.0,625.3) rotate(-21.8)"><path d="M0,-1.7 L8.1,-1.7 L8.1,1.7 L0,1.7" fill="#fff" stroke="#141414" stroke-width="1.1"/><line x1="3.2" y1="-1.7" x2="4.0" y2="1.7" stroke="#141414" stroke-width="0.7"/><line x1="4.9" y1="-1.7" x2="5.7" y2="1.7" stroke="#141414" stroke-width="0.7"/><line x1="6.6" y1="-1.7" x2="7.4" y2="1.7" stroke="#141414" stroke-width="0.7"/><path d="M0,-3.4 Q3.1,-3.4 3.1,-1.7 L3.1,1.7 Q3.1,3.4 0,3.4" fill="#fff" stroke="#141414" stroke-width="1.1"/><ellipse cx="0" cy="0" rx="2.0" ry="3.4" fill="#fff" stroke="#141414" stroke-width="1.2"/><path d="M0,-1.9 L0,1.9 M-1.2,0 L1.2,0" stroke="#444" stroke-width="0.7"/></g>
<g transform="translate(548.1,632.2) rotate(-19.0)"><path d="M0,-2.0 L8.9,-2.0 L8.9,2.0 L0,2.0" fill="#fff" stroke="#141414" stroke-width="1.1"/><line x1="3.4" y1="-2.0" x2="4.2" y2="2.0" stroke="#141414" stroke-width="0.7"/><line x1="5.1" y1="-2.0" x2="5.9" y2="2.0" stroke="#141414" stroke-width="0.7"/><line x1="6.8" y1="-2.0" x2="7.6" y2="2.0" stroke="#141414" stroke-width="0.7"/><line x1="8.5" y1="-2.0" x2="9.3" y2="2.0" stroke="#141414" stroke-width="0.7"/><path d="M0,-3.8 Q3.4,-3.8 3.4,-2.0 L3.4,2.0 Q3.4,3.8 0,3.8" fill="#fff" stroke="#141414" stroke-width="1.1"/><ellipse cx="0" cy="0" rx="2.3" ry="3.8" fill="#fff" stroke="#141414" stroke-width="1.2"/><path d="M0,-2.1 L0,2.1 M-1.3,0 L1.3,0" stroke="#444" stroke-width="0.7"/></g>
<g transform="translate(528.4,682.7) rotate(-21.6)"><path d="M0,-2.2 L8.7,-2.2 L8.7,2.2 L0,2.2" fill="#fff" stroke="#141414" stroke-width="1.1"/><line x1="3.4" y1="-2.2" x2="4.2" y2="2.2" stroke="#141414" stroke-width="0.7"/><line x1="5.1" y1="-2.2" x2="5.9" y2="2.2" stroke="#141414" stroke-width="0.7"/><line x1="6.8" y1="-2.2" x2="7.6" y2="2.2" stroke="#141414" stroke-width="0.7"/><line x1="8.5" y1="-2.2" x2="9.3" y2="2.2" stroke="#141414" stroke-width="0.7"/><path d="M0,-3.8 Q3.4,-3.8 3.4,-2.2 L3.4,2.2 Q3.4,3.8 0,3.8" fill="#fff" stroke="#141414" stroke-width="1.1"/><ellipse cx="0" cy="0" rx="2.3" ry="3.8" fill="#fff" stroke="#141414" stroke-width="1.2"/><path d="M0,-2.1 L0,2.1 M-1.3,0 L1.3,0" stroke="#444" stroke-width="0.7"/></g>
<g transform="translate(541.3,683.5) rotate(-21.1)"><path d="M0,-2.2 L8.0,-2.2 L8.0,2.2 L0,2.2" fill="#fff" stroke="#141414" stroke-width="1.1"/><line x1="3.4" y1="-2.2" x2="4.2" y2="2.2" stroke="#141414" stroke-width="0.7"/><line x1="5.1" y1="-2.2" x2="5.9" y2="2.2" stroke="#141414" stroke-width="0.7"/><line x1="6.8" y1="-2.2" x2="7.6" y2="2.2" stroke="#141414" stroke-width="0.7"/><path d="M0,-3.8 Q3.4,-3.8 3.4,-2.2 L3.4,2.2 Q3.4,3.8 0,3.8" fill="#fff" stroke="#141414" stroke-width="1.1"/><ellipse cx="0" cy="0" rx="2.3" ry="3.8" fill="#fff" stroke="#141414" stroke-width="1.2"/><path d="M0,-2.1 L0,2.1 M-1.3,0 L1.3,0" stroke="#444" stroke-width="0.7"/></g>
<path d="M925.9,101.8 Q925.9,99.4 927.7,95.2 Q929.5,90.9 932.5,90.1 Q935.6,89.2 939.2,90.7 Q942.9,92.1 947.1,98.2 Q951.3,104.2 968.2,130.8 Q985.2,157.5 988.9,166.0 Q992.5,174.5 993.7,181.8 Q994.9,189.0 996.1,202.3 Q997.3,215.6 999.8,220.4 Q1002.2,225.3 1015.5,232.6 Q1028.8,239.8 1033.0,243.4 Q1037.3,247.1 1039.1,253.1 Q1040.9,259.2 1039.7,264.0 Q1038.5,268.9 1036.1,270.1 Q1033.7,271.3 1020.4,265.2 Q1007.0,259.2 997.4,251.9 Q987.7,244.7 981.6,235.0 Q975.5,225.3 973.7,213.2 Q971.9,201.1 970.7,191.4 Q969.5,181.7 966.5,175.6 Q963.4,169.6 946.5,141.8 Q929.5,113.9 927.7,109.1 Q925.9,104.2 925.9,101.8 Z" stroke="#141414" stroke-width="1.2" fill="#fff" stroke-linejoin="round" stroke-linecap="round"/>
<path d="M943.0,95.0 L949.0,105.0 L982.0,158.0 L989.5,175.0 L992.0,190.0 L994.5,216.0 L1000.0,227.5 L1027.0,242.0 L1035.5,249.5 L1038.5,260.0" stroke="#555570" stroke-width="0.6" fill="none" stroke-linejoin="round" stroke-linecap="round"/>
<ellipse cx="939.2" cy="107.9" rx="2" ry="3.2" transform="rotate(-30 939.2 107.9)" fill="none" stroke="#333" stroke-width="0.8"/>
<ellipse cx="950.1" cy="124.8" rx="1.3" ry="2" transform="rotate(-30 950.1 124.8)" fill="none" stroke="#333" stroke-width="0.8"/>
<ellipse cx="1026.9" cy="256.3" rx="2.6" ry="3.4" transform="rotate(-30 1026.9 256.3)" fill="none" stroke="#333" stroke-width="0.8"/>
<path d="M742.7,208.0 Q742.7,205.6 744.5,201.4 Q746.3,197.1 749.4,196.2 Q752.4,195.4 756.1,196.9 Q759.7,198.3 763.9,204.4 Q768.1,210.4 785.0,237.1 Q802.0,263.7 805.6,272.2 Q809.3,280.7 810.5,287.9 Q811.7,295.2 812.9,308.5 Q814.1,321.8 816.5,326.6 Q819.0,331.5 832.3,338.8 Q845.6,346.0 849.8,349.6 Q854.1,353.3 855.9,359.4 Q857.7,365.4 856.5,370.2 Q855.3,375.1 852.9,376.3 Q850.5,377.5 837.1,371.4 Q823.8,365.4 814.1,358.1 Q804.5,350.9 798.4,341.2 Q792.3,331.5 790.5,319.4 Q788.7,307.3 787.5,297.6 Q786.3,287.9 783.2,281.9 Q780.2,275.8 763.2,248.0 Q746.3,220.1 744.5,215.2 Q742.7,210.4 742.7,208.0 Z" stroke="#141414" stroke-width="1.2" fill="#fff" stroke-linejoin="round" stroke-linecap="round"/>
<path d="M759.8,201.2 L765.8,211.2 L798.8,264.2 L806.3,281.2 L808.8,296.2 L811.3,322.2 L816.8,333.7 L843.8,348.2 L852.3,355.7 L855.3,366.2" stroke="#555570" stroke-width="0.6" fill="none" stroke-linejoin="round" stroke-linecap="round"/>
<ellipse cx="756.0" cy="214.1" rx="2" ry="3.2" transform="rotate(-30 756.0 214.1)" fill="none" stroke="#333" stroke-width="0.8"/>
<ellipse cx="766.9" cy="231.0" rx="1.3" ry="2" transform="rotate(-30 766.9 231.0)" fill="none" stroke="#333" stroke-width="0.8"/>
<ellipse cx="843.7" cy="362.5" rx="2.6" ry="3.4" transform="rotate(-30 843.7 362.5)" fill="none" stroke="#333" stroke-width="0.8"/>
<text transform="translate(963.3,45.4) scale(0.955,1)" class="b lb" font-size="11.9">142</text>
<line x1="972.0" y1="48.0" x2="972.0" y2="80.0" stroke="#7a7a92" stroke-width="1.6"/>
<text transform="translate(926.6,66.4) scale(0.955,1)" class="b lb" font-size="11.9">140</text>
<line x1="936.0" y1="68.5" x2="936.0" y2="88.5" stroke="#7a7a92" stroke-width="1.6"/>
<text transform="translate(834.7,114.6) scale(0.955,1)" class="b lb" font-size="11.9">141</text>
<line x1="843.6" y1="117.2" x2="843.6" y2="132.0" stroke="#7a7a92" stroke-width="1.6"/>
<text transform="translate(747.0,169.9) scale(0.955,1)" class="b lb" font-size="11.9">140</text>
<line x1="756.5" y1="171.9" x2="756.5" y2="195.5" stroke="#7a7a92" stroke-width="1.6"/>
<text transform="translate(714.8,187.0) scale(0.955,1)" class="b lb" font-size="11.9">142</text>
<line x1="723.7" y1="190.3" x2="723.7" y2="221.0" stroke="#7a7a92" stroke-width="1.6"/>
<text transform="translate(1078.5,277.0) scale(0.955,1)" class="b lb" font-size="11.9">134</text>
<line x1="1088.7" y1="232.5" x2="1088.7" y2="263.5" stroke="#7a7a92" stroke-width="1.6"/>
<text transform="translate(1045.5,295.3) scale(0.955,1)" class="b lb" font-size="11.9">156</text>
<line x1="1055.0" y1="251.9" x2="1055.0" y2="282.9" stroke="#7a7a92" stroke-width="1.6"/>
<text transform="translate(932.4,360.4) scale(0.955,1)" class="b lb" font-size="11.9">133</text>
<line x1="942.2" y1="317.8" x2="942.2" y2="348.8" stroke="#7a7a92" stroke-width="1.6"/>
<text transform="translate(800.5,436.8) scale(0.955,1)" class="b lb" font-size="11.9">134</text>
<line x1="809.5" y1="392.0" x2="809.5" y2="422.5" stroke="#7a7a92" stroke-width="1.6"/>
<text transform="translate(732.4,342.9) scale(0.955,1)" class="b lb" font-size="11.9">136</text>
<line x1="742.4" y1="346.3" x2="742.4" y2="376.8" stroke="#7a7a92" stroke-width="1.6"/>
<text transform="translate(711.4,354.7) scale(0.955,1)" class="b lb" font-size="11.9">138</text>
<path d="M721.5,357.4 L721.5,380.7 L713.3,398.1" stroke="#50505a" stroke-width="1.0" fill="none" stroke-linejoin="round" stroke-linecap="round"/>
<text transform="translate(689.9,366.3) scale(0.955,1)" class="b lb" font-size="11.9">137</text>
<line x1="699.9" y1="370.0" x2="699.9" y2="402.7" stroke="#7a7a92" stroke-width="1.6"/>
<line x1="940.3" y1="107.0" x2="909.4" y2="126.2" stroke="#8a8a80" stroke-width="0.7"/>
<line x1="800.3" y1="190.1" x2="768.0" y2="207.0" stroke="#8a8a80" stroke-width="0.7"/>
<line x1="820.2" y1="376.8" x2="843.8" y2="362.8" stroke="#8a8a80" stroke-width="0.7"/>
<path d="M795.9,167.2 Q815,149 842.5,132.7 Q866,120 889,112.4 Q903.5,117 911.5,133.4 L913.7,143.6 L913,149.4 Q890,163 867.2,177 L816.7,204.8" stroke="#141414" stroke-width="1.4" fill="#fff" stroke-linejoin="round" stroke-linecap="round"/>
<ellipse cx="806.3" cy="186" rx="10.5" ry="21.5" transform="rotate(-29 806.3 186)" fill="#fff" stroke="#141414" stroke-width="1.3"/>
<ellipse cx="806.8" cy="186" rx="8.5" ry="18.5" transform="rotate(-29 806.8 186)" fill="none" stroke="#444460" stroke-width="0.7"/>
<ellipse cx="806.5" cy="186.5" rx="3.6" ry="4.2" fill="#fff" stroke="#333" stroke-width="0.8"/>
<g transform="translate(806.5,186.3) rotate(-29)"><path d="M0,-3.5 L0,-18 M0,3.5 L0,18 M-3,0 L-8.5,0 M3,0 L8.5,0" stroke="#333" stroke-width="1.8"/><path d="M-1.5,-4 L-1.5,-17 M1.5,4 L1.5,17" stroke="#777" stroke-width="0.6"/></g>
<path d="M825.3,199.8 L825,191 Q826,184.5 831,182 L902,139 Q908,137.5 909.4,142 L912.5,148" stroke="#444460" stroke-width="0.7" fill="none" stroke-linejoin="round" stroke-linecap="round"/>
<path d="M826.5,190.5 Q827.5,185 832,183 L902.5,140.5" stroke="#444460" stroke-width="0.5" fill="none" stroke-linejoin="round" stroke-linecap="round"/>
<circle cx="830.0" cy="191.0" r="1.1" fill="none" stroke="#333" stroke-width="0.8"/>
<circle cx="834.0" cy="194.0" r="1.1" fill="none" stroke="#333" stroke-width="0.8"/>
<circle cx="832.0" cy="198.5" r="1.2" fill="#222"/>
<circle cx="839.2" cy="185.6" r="1.1" fill="none" stroke="#333" stroke-width="0.8"/>
<circle cx="843.2" cy="188.6" r="1.1" fill="none" stroke="#333" stroke-width="0.8"/>
<circle cx="841.2" cy="193.1" r="1.2" fill="#222"/>
<circle cx="848.5" cy="180.2" r="1.1" fill="none" stroke="#333" stroke-width="0.8"/>
<circle cx="852.5" cy="183.2" r="1.1" fill="none" stroke="#333" stroke-width="0.8"/>
<circle cx="850.5" cy="187.8" r="1.2" fill="#222"/>
<circle cx="857.8" cy="174.9" r="1.1" fill="none" stroke="#333" stroke-width="0.8"/>
<circle cx="861.8" cy="177.9" r="1.1" fill="none" stroke="#333" stroke-width="0.8"/>
<circle cx="859.8" cy="182.4" r="1.2" fill="#222"/>
<circle cx="867.0" cy="169.5" r="1.1" fill="none" stroke="#333" stroke-width="0.8"/>
<circle cx="871.0" cy="172.5" r="1.1" fill="none" stroke="#333" stroke-width="0.8"/>
<circle cx="869.0" cy="177.0" r="1.2" fill="#222"/>
<circle cx="876.2" cy="164.1" r="1.1" fill="none" stroke="#333" stroke-width="0.8"/>
<circle cx="880.2" cy="167.1" r="1.1" fill="none" stroke="#333" stroke-width="0.8"/>
<circle cx="878.2" cy="171.6" r="1.2" fill="#222"/>
<circle cx="885.5" cy="158.8" r="1.1" fill="none" stroke="#333" stroke-width="0.8"/>
<circle cx="889.5" cy="161.8" r="1.1" fill="none" stroke="#333" stroke-width="0.8"/>
<circle cx="887.5" cy="166.2" r="1.2" fill="#222"/>
<circle cx="894.8" cy="153.4" r="1.1" fill="none" stroke="#333" stroke-width="0.8"/>
<circle cx="898.8" cy="156.4" r="1.1" fill="none" stroke="#333" stroke-width="0.8"/>
<circle cx="896.8" cy="160.9" r="1.2" fill="#222"/>
<circle cx="904.0" cy="148.0" r="1.1" fill="none" stroke="#333" stroke-width="0.8"/>
<circle cx="908.0" cy="151.0" r="1.1" fill="none" stroke="#333" stroke-width="0.8"/>
<g transform="translate(973.5,88.5) rotate(149.4)"><path d="M0,-2.6 L19.6,-2.6 L19.6,2.6 L0,2.6" fill="#fff" stroke="#141414" stroke-width="1.1"/><line x1="3.9" y1="-2.6" x2="4.7" y2="2.6" stroke="#141414" stroke-width="0.7"/><line x1="5.6" y1="-2.6" x2="6.4" y2="2.6" stroke="#141414" stroke-width="0.7"/><line x1="7.3" y1="-2.6" x2="8.1" y2="2.6" stroke="#141414" stroke-width="0.7"/><line x1="9.0" y1="-2.6" x2="9.8" y2="2.6" stroke="#141414" stroke-width="0.7"/><line x1="10.7" y1="-2.6" x2="11.5" y2="2.6" stroke="#141414" stroke-width="0.7"/><line x1="12.4" y1="-2.6" x2="13.2" y2="2.6" stroke="#141414" stroke-width="0.7"/><line x1="14.1" y1="-2.6" x2="14.9" y2="2.6" stroke="#141414" stroke-width="0.7"/><line x1="15.8" y1="-2.6" x2="16.6" y2="2.6" stroke="#141414" stroke-width="0.7"/><line x1="17.5" y1="-2.6" x2="18.3" y2="2.6" stroke="#141414" stroke-width="0.7"/><line x1="19.2" y1="-2.6" x2="20.0" y2="2.6" stroke="#141414" stroke-width="0.7"/><path d="M0,-4.8 Q4.3,-4.8 4.3,-2.6 L4.3,2.6 Q4.3,4.8 0,4.8" fill="#fff" stroke="#141414" stroke-width="1.1"/><ellipse cx="0" cy="0" rx="2.9" ry="4.8" fill="#fff" stroke="#141414" stroke-width="1.2"/><path d="M0,-2.6 L0,2.6 M-1.7,0 L1.7,0" stroke="#444" stroke-width="0.7"/></g>
<g transform="translate(725.6,231.0) rotate(-25.5)"><path d="M0,-2.6 L19.7,-2.6 L19.7,2.6 L0,2.6" fill="#fff" stroke="#141414" stroke-width="1.1"/><line x1="3.9" y1="-2.6" x2="4.7" y2="2.6" stroke="#141414" stroke-width="0.7"/><line x1="5.6" y1="-2.6" x2="6.4" y2="2.6" stroke="#141414" stroke-width="0.7"/><line x1="7.3" y1="-2.6" x2="8.1" y2="2.6" stroke="#141414" stroke-width="0.7"/><line x1="9.0" y1="-2.6" x2="9.8" y2="2.6" stroke="#141414" stroke-width="0.7"/><line x1="10.7" y1="-2.6" x2="11.5" y2="2.6" stroke="#141414" stroke-width="0.7"/><line x1="12.4" y1="-2.6" x2="13.2" y2="2.6" stroke="#141414" stroke-width="0.7"/><line x1="14.1" y1="-2.6" x2="14.9" y2="2.6" stroke="#141414" stroke-width="0.7"/><line x1="15.8" y1="-2.6" x2="16.6" y2="2.6" stroke="#141414" stroke-width="0.7"/><line x1="17.5" y1="-2.6" x2="18.3" y2="2.6" stroke="#141414" stroke-width="0.7"/><line x1="19.2" y1="-2.6" x2="20.0" y2="2.6" stroke="#141414" stroke-width="0.7"/><path d="M0,-4.8 Q4.3,-4.8 4.3,-2.6 L4.3,2.6 Q4.3,4.8 0,4.8" fill="#fff" stroke="#141414" stroke-width="1.1"/><ellipse cx="0" cy="0" rx="2.9" ry="4.8" fill="#fff" stroke="#141414" stroke-width="1.2"/><path d="M0,-2.6 L0,2.6 M-1.7,0 L1.7,0" stroke="#444" stroke-width="0.7"/></g>
<g transform="translate(803.7,384.4) rotate(-24.7)"><path d="M0,-3.0 L18.2,-3.0 L18.2,3.0 L0,3.0" fill="#fff" stroke="#141414" stroke-width="1.1"/><line x1="4.4" y1="-3.0" x2="5.2" y2="3.0" stroke="#141414" stroke-width="0.7"/><line x1="6.1" y1="-3.0" x2="6.9" y2="3.0" stroke="#141414" stroke-width="0.7"/><line x1="7.8" y1="-3.0" x2="8.6" y2="3.0" stroke="#141414" stroke-width="0.7"/><line x1="9.5" y1="-3.0" x2="10.3" y2="3.0" stroke="#141414" stroke-width="0.7"/><line x1="11.2" y1="-3.0" x2="12.0" y2="3.0" stroke="#141414" stroke-width="0.7"/><line x1="12.9" y1="-3.0" x2="13.7" y2="3.0" stroke="#141414" stroke-width="0.7"/><line x1="14.6" y1="-3.0" x2="15.4" y2="3.0" stroke="#141414" stroke-width="0.7"/><line x1="16.3" y1="-3.0" x2="17.1" y2="3.0" stroke="#141414" stroke-width="0.7"/><path d="M0,-5.8 Q5.2,-5.8 5.2,-3.0 L5.2,3.0 Q5.2,5.8 0,5.8" fill="#fff" stroke="#141414" stroke-width="1.1"/><ellipse cx="0" cy="0" rx="3.5" ry="5.8" fill="#fff" stroke="#141414" stroke-width="1.2"/><path d="M0,-3.2 L0,3.2 M-2.0,0 L2.0,0" stroke="#444" stroke-width="0.7"/></g>
<g transform="translate(1087.3,222.3) rotate(152.0)"><path d="M0,-3.2 L16.4,-3.2 L16.4,3.2 L0,3.2" fill="#fff" stroke="#141414" stroke-width="1.1"/><line x1="4.1" y1="-3.2" x2="4.9" y2="3.2" stroke="#141414" stroke-width="0.7"/><line x1="5.8" y1="-3.2" x2="6.6" y2="3.2" stroke="#141414" stroke-width="0.7"/><line x1="7.5" y1="-3.2" x2="8.3" y2="3.2" stroke="#141414" stroke-width="0.7"/><line x1="9.2" y1="-3.2" x2="10.0" y2="3.2" stroke="#141414" stroke-width="0.7"/><line x1="10.9" y1="-3.2" x2="11.7" y2="3.2" stroke="#141414" stroke-width="0.7"/><line x1="12.6" y1="-3.2" x2="13.4" y2="3.2" stroke="#141414" stroke-width="0.7"/><line x1="14.3" y1="-3.2" x2="15.1" y2="3.2" stroke="#141414" stroke-width="0.7"/><line x1="16.0" y1="-3.2" x2="16.8" y2="3.2" stroke="#141414" stroke-width="0.7"/><path d="M0,-5.2 Q4.7,-5.2 4.7,-3.2 L4.7,3.2 Q4.7,5.2 0,5.2" fill="#fff" stroke="#141414" stroke-width="1.1"/><ellipse cx="0" cy="0" rx="3.1" ry="5.2" fill="#fff" stroke="#141414" stroke-width="1.2"/><path d="M0,-2.9 L0,2.9 M-1.8,0 L1.8,0" stroke="#444" stroke-width="0.7"/></g>
<path d="M1047.3,222.3 L1052.7,218.3 L1066.7,226.3 L1066,233 L1058,237.7 L1057.3,242.3 L1056.7,249 Q1055,252 1052,251.7 Q1048,251 1046.7,249 Q1044,245 1044,241 L1046,233 L1047.3,230.3 Z" stroke="#141414" stroke-width="1.2" fill="#fff" stroke-linejoin="round" stroke-linecap="round"/>
<path d="M1049.5,223.5 L1064.5,231.5 M1057.5,237.5 L1057.5,226" stroke="#444460" stroke-width="0.6" fill="none" stroke-linejoin="round" stroke-linecap="round"/>
<path d="M1049,224 L1056,227.5" stroke="#333" stroke-width="1.6" fill="none" stroke-linejoin="round" stroke-linecap="round"/>
<ellipse cx="1050" cy="243.7" rx="2.3" ry="3.4" transform="rotate(-20 1050 243.7)" fill="none" stroke="#333" stroke-width="0.8"/>
<g transform="translate(887.1,337.1) rotate(-30.1)">
<path d="M0,-7.5 L108,-7.5 A4,7.5 0 0 1 108,7.5 L0,7.5" fill="#fff" stroke="#141414" stroke-width="1.1"/>
<ellipse cx="0" cy="0" rx="4" ry="7.5" fill="#fff" stroke="#141414" stroke-width="1.1"/>
<ellipse cx="0" cy="0" rx="2" ry="2.6" fill="none" stroke="#333" stroke-width="0.8"/>
</g>
<g transform="translate(770,374.5) rotate(-29)">
<path d="M-10,-4.8 L-54,-4.8 L-54,4.8 L-10,4.8" fill="#fff" stroke="#141414" stroke-width="1.2"/>
<ellipse cx="-54" cy="0" rx="2.8" ry="4.8" fill="#fff" stroke="#141414" stroke-width="1.1"/>
<path d="M-49,-4.8 Q-47,0 -49,4.8 M-41,-4.8 Q-39,0 -41,4.8 M-27,-4.8 Q-25,0 -27,4.8" fill="none" stroke="#555" stroke-width="0.7"/>
<path d="M-4,-7 L-12,-7 Q-14,-5.5 -14,-4.8 L-14,4.8 Q-14,5.5 -12,7 L-4,7" fill="#fff" stroke="#141414" stroke-width="1.1"/>
<ellipse cx="-8" cy="0" rx="3.5" ry="7" fill="none" stroke="#555" stroke-width="0.6"/>
<path d="M-4,-11 L1,-11 A5.5,11 0 0 1 1,11 L-4,11" fill="#fff" stroke="#141414" stroke-width="1.2"/>
<ellipse cx="-4" cy="0" rx="5" ry="11" fill="#fff" stroke="#141414" stroke-width="1.2"/>
<ellipse cx="-3" cy="0" rx="4" ry="9.5" fill="none" stroke="#555" stroke-width="0.6"/>
</g>
<path d="M706.5,406.5 Q703,404.5 700.5,408 Q697.5,413 699.5,416.5 Q701.5,418.5 705,415.5" transform="rotate(0)" fill="none" stroke="#141414" stroke-width="1.4"/>
<ellipse cx="713.5" cy="404.9" rx="3.3" ry="5.4" transform="rotate(30 713.5 404.9)" fill="none" stroke="#141414" stroke-width="2.2"/>
<line x1="680.8" y1="533.0" x2="812.0" y2="607.5" stroke="#4a4a5a" stroke-width="0.8"/>
<line x1="650.7" y1="580.9" x2="771.0" y2="641.9" stroke="#4a4a5a" stroke-width="0.8"/>
<path d="M742.1,517.2 L741.3,509.3 Q742,502 744.4,498.3 Q748,490 753.9,485.7 Q760,481.5 766.5,481.8 Q771,482 774.3,483.4 L794.8,495.2 L797.2,499.1 C818,513 842,542 854,575 C859,592 859.5,615 859.2,653 L870.2,670.3 L879.6,689.2 L878,693.9 Q870,689 862.3,686 Q855,683.5 848.1,682.9 L835.5,682.9 L837.9,715.9 Q829,710 821.4,703.3 L816.7,697 L814.3,678.1 L812,657.7 L796.2,647.4 L788.3,646.7 L783.6,649.8 L780.5,656.1 L774.2,656.9 L770.2,653 L771,641.9 L784.4,634.1 L788.3,634.9 L812,632.5 L810.4,605.7 Q808,585 801.1,575.4 Q796,564 790.1,556.6 Q784,548 777.5,543.2 L772.8,541.6 L766.5,539.2 Q756,534 747.6,528.2 Z" stroke="#141414" stroke-width="1.5" fill="#fff" stroke-linejoin="round" stroke-linecap="round"/>
<path d="M790,493.6 Q772,505 768,520 Q766,530 768.5,539.5" stroke="#444460" stroke-width="0.7" fill="none" stroke-linejoin="round" stroke-linecap="round"/>
<path d="M794,495 Q776,507 772,522 Q770,532 772.5,541" stroke="#444460" stroke-width="0.7" fill="none" stroke-linejoin="round" stroke-linecap="round"/>
<path d="M797,499 Q780,510 776,525 Q774,535 776.5,543" stroke="#444460" stroke-width="0.6" fill="none" stroke-linejoin="round" stroke-linecap="round"/>
<path d="M744.5,505 Q750,494 760,491 Q762,495 758,500 L748,508" stroke="#444460" stroke-width="0.7" fill="none" stroke-linejoin="round" stroke-linecap="round"/>
<path d="M752,512 L763,499 Q770,497 772,500 Q770,507 760,514" stroke="#444460" stroke-width="0.7" fill="none" stroke-linejoin="round" stroke-linecap="round"/>
<circle cx="746.8" cy="503.8" r="1.8" fill="none" stroke="#444" stroke-width="0.7"/><circle cx="758.6" cy="510.9" r="1.8" fill="none" stroke="#444" stroke-width="0.7"/>
<path d="M829.2,634 Q831,600 841.8,593 Q848,589 852.9,591.6 Q856.5,600 857.6,621.5" stroke="#555570" stroke-width="0.8" fill="none" stroke-linejoin="round" stroke-linecap="round"/>
<path d="M831.5,634 Q833,603 842.5,596 Q847.5,592.5 851.5,594.5" stroke="#777790" stroke-width="0.5" fill="none" stroke-linejoin="round" stroke-linecap="round"/>
<path d="M827.7,631.7 L840.3,631.7 Q841.5,633.6 840.3,635.6 L827.7,635.6 Z" stroke="#555570" stroke-width="0.7" fill="#fff" stroke-linejoin="round" stroke-linecap="round"/>
<path d="M834,647.8 L857.6,634 M834,647.8 L838.8,716.9 M834,648.2 Q852,655 862,668 L874,688" stroke="#333350" stroke-width="0.8" fill="none" stroke-linejoin="round" stroke-linecap="round"/>
<path d="M835.2,683 Q848,682 862.3,686" stroke="#555570" stroke-width="0.6" fill="none" stroke-linejoin="round" stroke-linecap="round"/>
<path d="M813.4,664.8 Q824,670 834,670.8" stroke="#444460" stroke-width="0.7" fill="none" stroke-linejoin="round" stroke-linecap="round"/>
<path d="M770.4,644 L784,640 L812,640 M784.4,647.8 L790.4,643 L812,645" stroke="#444460" stroke-width="0.6" fill="none" stroke-linejoin="round" stroke-linecap="round"/>
<path d="M803.7,649 L812.2,634.5" stroke="#666" stroke-width="1.2" fill="none" stroke-linejoin="round" stroke-linecap="round"/>
<rect x="823" y="659.5" width="3.6" height="3.6" fill="none" stroke="#444" stroke-width="0.7" transform="rotate(-15 824.8 661.3)"/>
<circle cx="778.1" cy="651.4" r="1.8" fill="none" stroke="#333" stroke-width="0.8"/>
<ellipse cx="863.9" cy="678.1" rx="1.4" ry="2" fill="none" stroke="#333" stroke-width="0.7"/>
<circle cx="825.5" cy="700.5" r="1.9" fill="none" stroke="#333" stroke-width="0.7"/>
<ellipse cx="820.7" cy="679.9" rx="2.8" ry="4.3" transform="rotate(-20 820.7 679.9)" fill="#111"/>
<path d="M818.5,685.5 L826.5,691.5 M817.5,689.5 L828.5,695" stroke="#111" stroke-width="2.0" fill="none" stroke-linejoin="round" stroke-linecap="round"/>
<text transform="translate(898.4,605.5) scale(0.955,1)" class="b lb" font-size="11.9">152</text>
<line x1="898.0" y1="603.3" x2="861.7" y2="622.2" stroke="#3a3a48" stroke-width="0.9"/>
<text transform="translate(898.4,630.7) scale(0.955,1)" class="b lb" font-size="11.9">162</text>
<line x1="898.0" y1="628.5" x2="877.5" y2="638.0" stroke="#3a3a48" stroke-width="0.9"/>
<text transform="translate(749.4,683.0) scale(0.955,1)" class="b lb" font-size="11.9">162</text>
<line x1="768.8" y1="677.3" x2="789.3" y2="666.3" stroke="#3a3a48" stroke-width="0.9"/>
<g transform="translate(875.2,643.7) rotate(-156.0)"><path d="M0,-2.8 L12.8,-2.8 L12.8,2.8 L0,2.8" fill="#fff" stroke="#141414" stroke-width="1.1"/><line x1="4.1" y1="-2.8" x2="4.9" y2="2.8" stroke="#141414" stroke-width="0.7"/><line x1="5.8" y1="-2.8" x2="6.6" y2="2.8" stroke="#141414" stroke-width="0.7"/><line x1="7.5" y1="-2.8" x2="8.3" y2="2.8" stroke="#141414" stroke-width="0.7"/><line x1="9.2" y1="-2.8" x2="10.0" y2="2.8" stroke="#141414" stroke-width="0.7"/><line x1="10.9" y1="-2.8" x2="11.7" y2="2.8" stroke="#141414" stroke-width="0.7"/><line x1="12.6" y1="-2.8" x2="13.4" y2="2.8" stroke="#141414" stroke-width="0.7"/><path d="M0,-5.2 Q4.7,-5.2 4.7,-2.8 L4.7,2.8 Q4.7,5.2 0,5.2" fill="#fff" stroke="#141414" stroke-width="1.1"/><ellipse cx="0" cy="0" rx="3.1" ry="5.2" fill="#fff" stroke="#141414" stroke-width="1.2"/><path d="M0,-2.9 L0,2.9 M-1.8,0 L1.8,0" stroke="#444" stroke-width="0.7"/></g>
<g transform="translate(798.1,662.6) rotate(-153.8)"><path d="M0,-2.8 L12.9,-2.8 L12.9,2.8 L0,2.8" fill="#fff" stroke="#141414" stroke-width="1.1"/><line x1="4.1" y1="-2.8" x2="4.9" y2="2.8" stroke="#141414" stroke-width="0.7"/><line x1="5.8" y1="-2.8" x2="6.6" y2="2.8" stroke="#141414" stroke-width="0.7"/><line x1="7.5" y1="-2.8" x2="8.3" y2="2.8" stroke="#141414" stroke-width="0.7"/><line x1="9.2" y1="-2.8" x2="10.0" y2="2.8" stroke="#141414" stroke-width="0.7"/><line x1="10.9" y1="-2.8" x2="11.7" y2="2.8" stroke="#141414" stroke-width="0.7"/><line x1="12.6" y1="-2.8" x2="13.4" y2="2.8" stroke="#141414" stroke-width="0.7"/><path d="M0,-5.2 Q4.7,-5.2 4.7,-2.8 L4.7,2.8 Q4.7,5.2 0,5.2" fill="#fff" stroke="#141414" stroke-width="1.1"/><ellipse cx="0" cy="0" rx="3.1" ry="5.2" fill="#fff" stroke="#141414" stroke-width="1.2"/><path d="M0,-2.9 L0,2.9 M-1.8,0 L1.8,0" stroke="#444" stroke-width="0.7"/></g>
<text transform="translate(884.8,694.6) scale(0.955,1)" class="b lb" font-size="11.9">244</text>
<line x1="894.8" y1="666.3" x2="894.8" y2="684.3" stroke="#7a7a92" stroke-width="1.6"/>
<text transform="translate(903.8,684.6) scale(0.955,1)" class="b lb" font-size="11.9">245</text>
<line x1="913.0" y1="656.9" x2="913.0" y2="674.2" stroke="#7a7a92" stroke-width="1.6"/>
<text transform="translate(921.1,674.2) scale(0.955,1)" class="b lb" font-size="11.9">243</text>
<line x1="931.0" y1="645.8" x2="931.0" y2="663.1" stroke="#7a7a92" stroke-width="1.6"/>
<line x1="875.9" y1="674.2" x2="890.0" y2="664.7" stroke="#50505a" stroke-width="0.8"/>
<g transform="translate(894.8,660.6) rotate(-25)"><ellipse rx="4.2" ry="5.2" fill="#fff" stroke="#141414" stroke-width="1.2"/><ellipse rx="2.2" ry="2.8" fill="none" stroke="#141414" stroke-width="1.6"/></g>
<g transform="translate(910.5,650.6) rotate(-25)"><ellipse rx="3.4" ry="4.6" fill="#fff" stroke="#141414" stroke-width="1.1"/><ellipse rx="1.6" ry="2.2" fill="none" stroke="#141414" stroke-width="0.8800000000000001"/></g>
<g transform="translate(929.6,641.0) rotate(157.4)"><path d="M0,-2.6 L10.4,-2.6 L10.4,2.6 L0,2.6" fill="#fff" stroke="#141414" stroke-width="1.1"/><line x1="4.0" y1="-2.6" x2="4.8" y2="2.6" stroke="#141414" stroke-width="0.7"/><line x1="5.7" y1="-2.6" x2="6.5" y2="2.6" stroke="#141414" stroke-width="0.7"/><line x1="7.4" y1="-2.6" x2="8.2" y2="2.6" stroke="#141414" stroke-width="0.7"/><line x1="9.1" y1="-2.6" x2="9.9" y2="2.6" stroke="#141414" stroke-width="0.7"/><path d="M0,-5.0 Q4.5,-5.0 4.5,-2.6 L4.5,2.6 Q4.5,5.0 0,5.0" fill="#fff" stroke="#141414" stroke-width="1.1"/><ellipse cx="0" cy="0" rx="3.0" ry="5.0" fill="#fff" stroke="#141414" stroke-width="1.2"/></g>
<text transform="translate(783.0,751.5) scale(0.955,1)" class="b lb" font-size="11.9">244</text>
<line x1="793.0" y1="725.9" x2="793.0" y2="741.4" stroke="#7a7a92" stroke-width="1.6"/>
<text transform="translate(762.6,763.5) scale(0.955,1)" class="b lb" font-size="11.9">245</text>
<line x1="771.5" y1="737.8" x2="771.5" y2="753.4" stroke="#7a7a92" stroke-width="1.6"/>
<text transform="translate(741.1,775.4) scale(0.955,1)" class="b lb" font-size="11.9">243</text>
<line x1="751.1" y1="748.6" x2="751.1" y2="765.4" stroke="#7a7a92" stroke-width="1.6"/>
<line x1="795.4" y1="718.7" x2="823.0" y2="704.3" stroke="#8a8a80" stroke-width="0.7"/>
<g transform="translate(790.7,721.1) rotate(-25)"><ellipse rx="4.2" ry="5.2" fill="#fff" stroke="#141414" stroke-width="1.2"/><ellipse rx="2.2" ry="2.8" fill="none" stroke="#141414" stroke-width="1.6"/></g>
<g transform="translate(771.5,731.9) rotate(-25)"><ellipse rx="3.4" ry="4.6" fill="#fff" stroke="#141414" stroke-width="1.1"/><ellipse rx="1.6" ry="2.2" fill="none" stroke="#141414" stroke-width="0.8800000000000001"/></g>
<g transform="translate(751.3,744.0) rotate(-28.3)"><path d="M0,-2.6 L11.6,-2.6 L11.6,2.6 L0,2.6" fill="#fff" stroke="#141414" stroke-width="1.1"/><line x1="3.9" y1="-2.6" x2="4.7" y2="2.6" stroke="#141414" stroke-width="0.7"/><line x1="5.6" y1="-2.6" x2="6.4" y2="2.6" stroke="#141414" stroke-width="0.7"/><line x1="7.3" y1="-2.6" x2="8.1" y2="2.6" stroke="#141414" stroke-width="0.7"/><line x1="9.0" y1="-2.6" x2="9.8" y2="2.6" stroke="#141414" stroke-width="0.7"/><line x1="10.7" y1="-2.6" x2="11.5" y2="2.6" stroke="#141414" stroke-width="0.7"/><path d="M0,-4.8 Q4.3,-4.8 4.3,-2.6 L4.3,2.6 Q4.3,4.8 0,4.8" fill="#fff" stroke="#141414" stroke-width="1.1"/><ellipse cx="0" cy="0" rx="2.9" ry="4.8" fill="#fff" stroke="#141414" stroke-width="1.2"/><path d="M0,-2.6 L0,2.6 M-1.7,0 L1.7,0" stroke="#444" stroke-width="0.7"/></g>
<text transform="translate(970.5,698.8) scale(0.955,1)" class="b lb" font-size="11.9">234</text>
<line x1="969.1" y1="695.9" x2="909.2" y2="730.7" stroke="#3a3a48" stroke-width="0.9"/>
<text transform="translate(971.0,724.2) scale(0.955,1)" class="b lb" font-size="11.9">238</text>
<line x1="969.1" y1="721.8" x2="952.3" y2="730.7" stroke="#3a3a48" stroke-width="0.9"/>
<path d="M846.5,712.8 Q847.5,709.5 850.4,709 Q858,707 867.1,707.4 Q877,708.5 886.3,711.5 Q894,714 900.4,718 Q903.5,720.5 904.3,724.4 L906.2,738.5 L908.1,757.7 Q908,760.5 906.9,761 Q905,762 903,761.6 Q895,758 886.3,755.2 Q878,752.5 870.3,751.3 L870.9,764.2 L872.2,779.6 Q871,782 869,782.1 Q866.5,781.5 864.5,780.2 Q857,775 851.7,769.3 Q847,765 846.5,760.3 L845.9,725.7 Z" stroke="#141414" stroke-width="1.4" fill="#fff" stroke-linejoin="round" stroke-linecap="round"/>
<path d="M847.8,716.7 Q850,723 854.2,728.2 Q860,733.5 865.8,738.5 Q868.5,741 869,743.6 L869.6,751.3 L870.9,780.8" stroke="#444460" stroke-width="0.7" fill="none" stroke-linejoin="round" stroke-linecap="round"/>
<path d="M847,719 Q849,725 853,730 Q859,735.5 864.5,740.5 Q867.5,743 868,746" stroke="#666680" stroke-width="0.6" fill="none" stroke-linejoin="round" stroke-linecap="round"/>
<ellipse cx="851" cy="720.5" rx="1.6" ry="2.1" fill="none" stroke="#333" stroke-width="0.7"/>
<ellipse cx="894.3" cy="724.6" rx="1.6" ry="2.1" fill="none" stroke="#333" stroke-width="0.7"/>
<ellipse cx="860.7" cy="744.3" rx="1.6" ry="2.1" fill="none" stroke="#333" stroke-width="0.7"/>
<path d="M946.6,728.9 L971.7,764.2 Q955,776 935.1,778.6 Q918,779 906.2,773.1 L905.6,772.5 L906.9,766.7 L910.7,766.1 L912,769.3 L913.3,768 L926.1,738.5 L924.2,736.6 L930,732.7 L933.2,736.6 L942.2,730" stroke="#141414" stroke-width="1.3" fill="#fff" stroke-linejoin="round" stroke-linecap="round"/>
<circle cx="944.1" cy="727" r="2.6" fill="#fff" stroke="#141414" stroke-width="1.2"/>
</svg></body></html>
